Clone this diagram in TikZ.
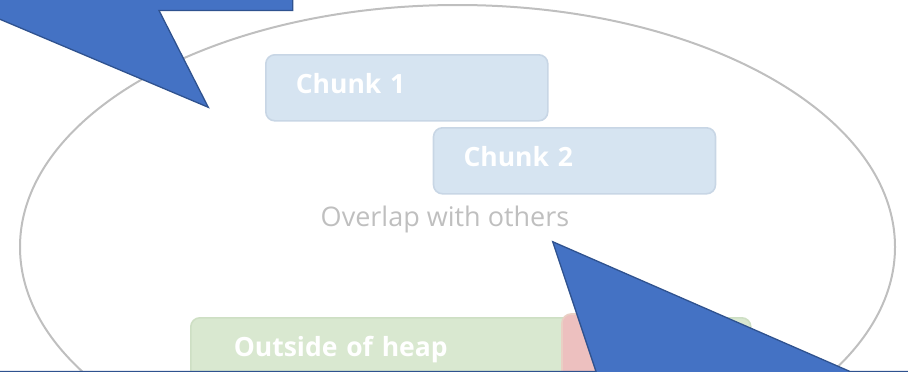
\documentclass[tikz,border=0pt]{standalone}
\usepackage{fontspec}
\setmainfont{Open Sans}
\definecolor{calloutfill}{RGB}{68,114,196}
\definecolor{calloutline}{RGB}{47,82,143}
\definecolor{heapline}{RGB}{191,191,191}
\definecolor{chunkfill}{RGB}{214,228,241}
\definecolor{chunkline}{RGB}{200,214,229}
\definecolor{outfill}{RGB}{217,232,208}
\definecolor{outline}{RGB}{206,223,196}
\definecolor{badfill}{RGB}{237,192,191}
\definecolor{badline}{RGB}{234,207,196}

\begin{document}
\begin{tikzpicture}[x=1pt,y=-1pt]
        \tikzstyle{every node}=[font=\bfseries\fontsize{26.5}{30}\selectfont]
        \tikzstyle{chunkbox}=[draw=chunkline,fill=chunkfill,line width=1.6pt,rounded corners=9pt,
            anchor=north west,minimum height=66pt,text width=222pt,align=left,
            inner xsep=30pt,text height=20pt,text depth=8pt,text=white]
        \tikzstyle{heapbox}=[chunkbox,draw=outline,fill=outfill,text width=474pt,inner xsep=43pt]
        \tikzstyle{callout}=[fill=calloutfill,draw=calloutline,line width=1.3pt,line join=miter]

        \useasboundingbox (0,0) rectangle (908,372);
        \begin{scope}
        \clip (0,0) rectangle (908,372);

        % the heap
        \draw[heapline,line width=2pt] (457.5,247) ellipse (437.5 and 242);

        \node[chunkbox] (chunk1) at (265,54) {Chunk 1};
        \node[chunkbox] (chunk2) at (432.7,127) {Chunk 2};
        \node[anchor=base,font=\fontsize{27}{30}\selectfont,text=heapline] (overlap) at (445,226) {Overlap with others};

        \node[heapbox] (outside) at (190,317) {Outside of heap};
        \filldraw[badfill,draw=badline,line width=1.6pt,rounded corners=9pt] (562,314) rectangle (705,390);

        % callouts
        \filldraw[callout] (-100,-60) -- (292.7,-60) -- (292.7,10.5) -- (159,10.5) -- (208.3,107.3)
            -- (-20.8,10.5) -- (-100,10.5) -- cycle;
        \filldraw[callout] (-100,371.5) -- (596,371.5) -- (552.7,241.7) -- (850,371.5)
            -- (1000,371.5) -- (1000,460) -- (-100,460) -- cycle;
        \end{scope}
  \end{tikzpicture}
\end{document}
